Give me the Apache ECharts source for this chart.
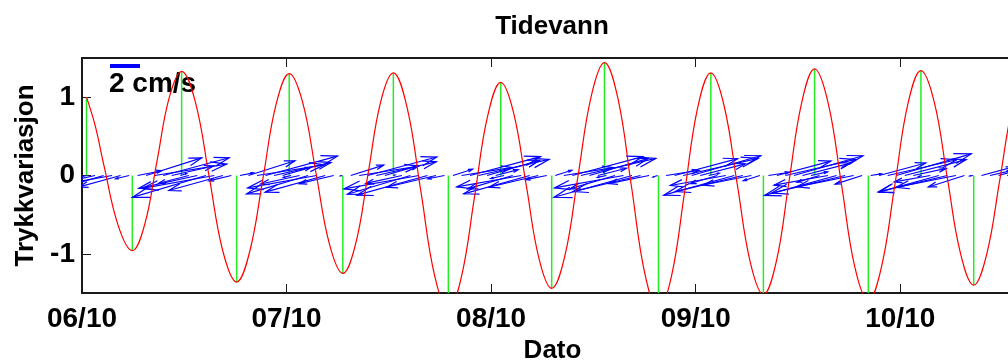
<!DOCTYPE html>
<html>
<head>
<meta charset="utf-8">
<script src="https://cdn.jsdelivr.net/npm/echarts@6/dist/echarts.min.js"></script>
<style>
  html, body { margin: 0; padding: 0; background: #fff; }
  #chart { width: 1008px; height: 360px; }
</style>
</head>
<body>
<div id="chart"></div>
<script>
// x is days after 06/10 00:00
const dayTicks = [0, 1, 2, 3, 4];
const dayLabels = ['06/10', '07/10', '08/10', '09/10', '10/10'];
const yTicks = [-1, 0, 1];

// pressure variation (red)
const tideT = [0.022, 0.065, 0.108, 0.177, 0.246, 0.306, 0.367, 0.427, 0.487, 0.554, 0.622, 0.689,
  0.756, 0.820, 0.885, 0.949, 1.013, 1.079, 1.144, 1.210, 1.275, 1.337, 1.399, 1.460, 1.522, 1.589,
  1.657, 1.724, 1.791, 1.855, 1.919, 1.983, 2.047, 2.109, 2.172, 2.234, 2.296, 2.361, 2.425, 2.490,
  2.554, 2.620, 2.686, 2.752, 2.818, 2.882, 2.946, 3.010, 3.074, 3.138, 3.203, 3.267, 3.331, 3.394,
  3.456, 3.519, 3.581, 3.647, 3.713, 3.778, 3.844, 3.908, 3.973, 4.037, 4.101, 4.166, 4.230, 4.295,
  4.359, 4.423, 4.487, 4.551, 4.615];
const tideV = [1.00, 0.63, 0.12, -0.64, -0.96, -0.63, 0.19, 1.00, 1.33, 0.94, -0.02, -0.97,
  -1.36, -0.97, -0.03, 0.91, 1.30, 0.93, 0.03, -0.88, -1.25, -0.88, 0.03, 0.94, 1.31, 0.87,
  -0.21, -1.28, -1.72, -1.29, -0.27, 0.76, 1.19, 0.81, -0.13, -1.06, -1.44, -1.02, 0.00, 1.02,
  1.44, 0.98, -0.14, -1.26, -1.72, -1.28, -0.21, 0.87, 1.31, 0.90, -0.11, -1.11, -1.52, -1.10,
  -0.08, 0.94, 1.36, 0.93, -0.12, -1.17, -1.60, -1.17, -0.13, 0.91, 1.34, 0.94, -0.03, -1.00,
  -1.40, -1.00, -0.05, 0.90, 1.30];

// high / low water (green sticks)
const extremeT = [0.022, 0.246, 0.487, 0.756, 1.013, 1.275, 1.522, 1.791, 2.047, 2.296, 2.554,
  2.818, 3.074, 3.331, 3.581, 3.844, 4.101, 4.359];
const extremeV = [1.00, -0.96, 1.33, -1.36, 1.30, -1.25, 1.31, -1.72, 1.19, -1.44, 1.44,
  -1.72, 1.31, -1.52, 1.36, -1.60, 1.34, -1.40];

// hourly current, cm/s (east, north), first sample at curStart
const curStart = 0.022;
const curU = [-2.6, -4.0, -4.6, -4.1, -2.8, -0.9, 1.6, 3.7, 4.8, 4.4, 2.8, 0.4,
  -2.0, -3.9, -4.9, -4.8, -3.6, -1.5, 0.9, 3.1, 4.5, 4.8, 3.8, 1.9,
  -0.5, -2.6, -4.1, -4.6, -4.0, -2.3, -0.1, 2.2, 3.9, 4.6, 4.0, 2.3,
  0.1, -2.4, -4.2, -5.0, -4.7, -3.3, -1.1, 1.3, 3.4, 4.7, 4.7, 3.5,
  1.5, -0.9, -3.0, -4.3, -4.4, -3.3, -1.4, 1.1, 3.3, 4.7, 5.0, 3.9,
  1.9, -0.6, -3.0, -4.6, -5.2, -4.5, -2.7, -0.3, 2.2, 4.2, 5.0, 4.6,
  3.0, 0.7, -1.8, -3.7, -4.7, -4.5, -3.2, -1.1, 1.4, 3.6, 4.7, 4.6,
  3.2, 1.1, -1.5, -3.6, -4.8, -4.9, -3.8, -1.8, 0.7, 3.1, 4.6, 5.0,
  4.1, 2.2, -0.2, -2.4, -4.0, -4.6, -4.0, -2.4, -0.2, 2.1, 3.8, 4.6,
  4.2, 2.7, 0.5];
const curV = [-0.68, -0.88, -1.38, -0.74, -0.78, -0.22, 0.32, 1.18, 0.77, 1.19, 0.64, 0.12,
  -0.52, -0.86, -1.47, -0.86, -1.01, -0.36, 0.18, 0.99, 0.72, 1.30, 0.87, 0.55,
  -0.13, -0.57, -1.23, -0.83, -1.12, -0.55, -0.02, 0.70, 0.62, 1.24, 0.92, 0.67,
  0.03, -0.53, -1.26, -0.90, -1.32, -0.79, -0.22, 0.42, 0.54, 1.27, 1.08, 1.02,
  0.39, -0.20, -0.90, -0.77, -1.23, -0.79, -0.28, 0.35, 0.53, 1.27, 1.15, 1.13,
  0.49, -0.13, -0.90, -0.83, -1.46, -1.08, -0.54, -0.10, 0.35, 1.13, 1.15, 1.33,
  0.78, 0.15, -0.54, -0.67, -1.32, -1.08, -0.64, -0.35, 0.22, 0.97, 1.08, 1.33,
  0.83, 0.24, -0.45, -0.65, -1.34, -1.18, -0.76, -0.58, 0.11, 0.84, 1.06, 1.45,
  1.07, 0.48, -0.06, -0.43, -1.12, -1.10, -0.80, -0.77, -0.03, 0.57, 0.87, 1.33,
  1.09, 0.59, 0.15];

const FONT = 'Liberation Sans';
const AXIS = '#1a1a1a';
const U_SCALE = 0.0733; // days per cm/s
const V_SCALE = 0.19;   // y units per cm/s

const chart = echarts.init(document.getElementById('chart'));

const tideData = tideT.map((t, i) => [t, tideV[i]]);
const stickData = extremeT.map((t, i) => [t, extremeV[i]]);
const arrowData = curU.map((u, i) => [curStart + i / 24, u, curV[i]]);

function xAxisBase(pos) {
  return {
    type: 'value',
    position: pos,
    min: 0,
    max: 4.6,
    splitLine: { show: false },
    axisLine: { show: true, onZero: false, lineStyle: { color: AXIS, width: 2 } },
    axisTick: { show: true, inside: true, length: 9, customValues: dayTicks, lineStyle: { color: AXIS, width: 1 } }
  };
}

const bottomAxis = Object.assign(xAxisBase('bottom'), {
  axisLabel: {
    customValues: dayTicks,
    formatter: v => dayLabels[Math.round(v)],
    fontSize: 28, fontWeight: 'bold', fontFamily: FONT, color: '#000', margin: 12
  },
  name: 'Dato',
  nameLocation: 'middle',
  nameGap: 45,
  nameTextStyle: { fontSize: 26, fontWeight: 'bold', fontFamily: FONT, color: '#000' }
});
const topAxis = Object.assign(xAxisBase('top'), { axisLabel: { show: false } });

chart.setOption({
  animation: false,
  backgroundColor: '#fff',
  grid: { left: 82, right: -15, top: 58, bottom: 67, outerBoundsMode: 'none', containLabel: false },
  xAxis: [bottomAxis, topAxis],
  yAxis: {
    type: 'value',
    min: -1.5,
    max: 1.5,
    splitLine: { show: false },
    axisLine: { show: true, lineStyle: { color: AXIS, width: 2 } },
    axisTick: { show: true, inside: true, length: 9, customValues: yTicks, lineStyle: { color: AXIS, width: 1 } },
    axisLabel: {
      customValues: yTicks,
      formatter: v => String(v),
      fontSize: 28, fontWeight: 'bold', fontFamily: FONT, color: '#000', margin: 7
    },
    name: 'Trykkvariasjon',
    nameLocation: 'middle',
    nameGap: 42,
    nameRotate: 90,
    nameTextStyle: { fontSize: 26, fontWeight: 'bold', fontFamily: FONT, color: '#000' }
  },
  graphic: [
    { type: 'text', x: 552, y: 27, style: { text: 'Tidevann', fontSize: 26, fontWeight: 'bold', fontFamily: FONT, fill: '#000', align: 'center', verticalAlign: 'middle' } },
    { type: 'line', shape: { x1: 110, y1: 66, x2: 140, y2: 66 }, style: { stroke: '#0000ff', lineWidth: 4 } },
    { type: 'text', x: 109, y: 84, style: { text: '2 cm/s', fontSize: 28, fontWeight: 'bold', fontFamily: FONT, fill: '#000', align: 'left', verticalAlign: 'middle' } }
  ],
  series: [
    {
      // green sticks from 0 to each high / low water
      type: 'custom',
      clip: true,
      data: stickData,
      encode: { x: 0, y: 1 },
      renderItem: (params, api) => {
        const p0 = api.coord([api.value(0), 0]);
        const p1 = api.coord([api.value(0), api.value(1)]);
        return { type: 'line', shape: { x1: p0[0], y1: p0[1], x2: p1[0], y2: p1[1] }, style: { stroke: '#22ee22', lineWidth: 1.5 } };
      }
    },
    {
      // current arrows along y = 0
      type: 'custom',
      clip: true,
      data: arrowData,
      encode: { x: 0, y: 2 },
      renderItem: (params, api) => {
        const t = api.value(0), u = api.value(1), v = api.value(2);
        const p0 = api.coord([t, 0]);
        const p1 = api.coord([t + u * U_SCALE, v * V_SCALE]);
        const dx = p1[0] - p0[0], dy = p1[1] - p0[1];
        const a = 0.22, b = 0.3;
        const h1 = [p1[0] - a * (dx + b * dy), p1[1] - a * (dy - b * dx)];
        const h2 = [p1[0] - a * (dx - b * dy), p1[1] - a * (dy + b * dx)];
        const st = { stroke: '#0000ff', lineWidth: 1.2, fill: null };
        return {
          type: 'group',
          children: [
            { type: 'line', shape: { x1: p0[0], y1: p0[1], x2: p1[0], y2: p1[1] }, style: st },
            { type: 'polyline', shape: { points: [h1, p1, h2] }, style: st }
          ]
        };
      }
    },
    {
      type: 'line',
      data: tideData,
      smooth: 0.4,
      showSymbol: false,
      clip: true,
      lineStyle: { color: '#ff0000', width: 1.2 }
    }
  ]
});
</script>
</body>
</html>
